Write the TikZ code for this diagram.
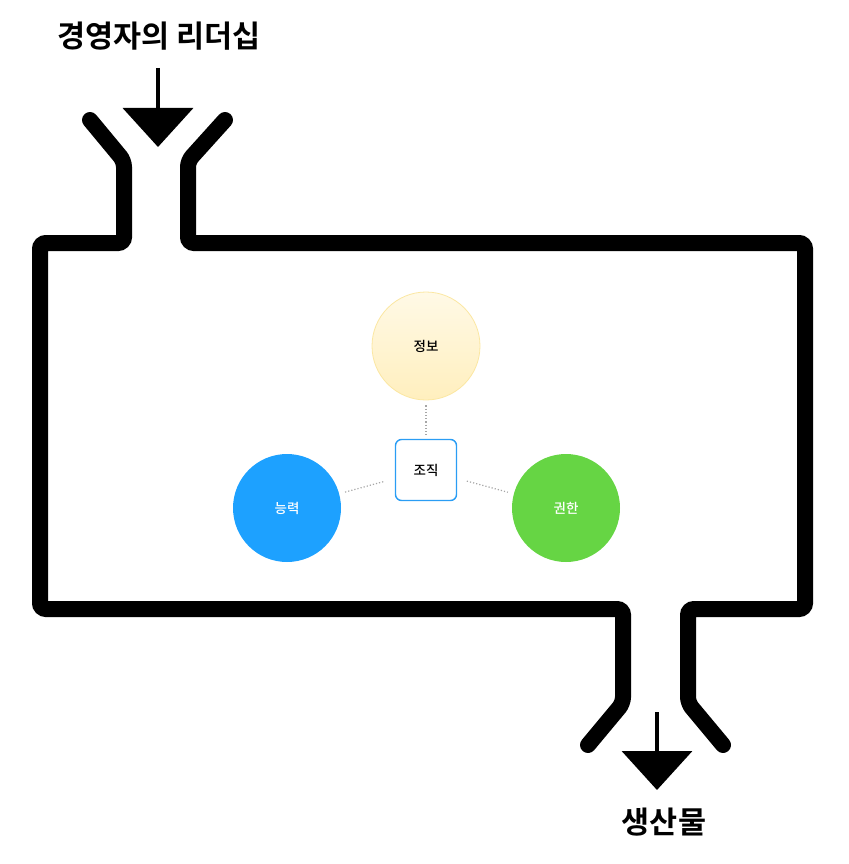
\documentclass[tikz,border=0pt]{standalone}
\usepackage{fontspec}
\setmainfont{Noto Sans CJK KR}[BoldFont={Noto Sans CJK KR Bold}]
\newfontfamily\krmedium{Noto Sans CJK KR Medium}
\usetikzlibrary{arrows.meta}

\definecolor{infotop}{HTML}{FFF9E6}
\definecolor{infobottom}{HTML}{FFEFBE}
\definecolor{infoline}{HTML}{FBE7A2}
\definecolor{skillblue}{HTML}{1DA1FF}
\definecolor{powergreen}{HTML}{66D544}
\definecolor{orgline}{HTML}{2A9DF4}

\begin{document}
\begin{tikzpicture}[
    x=1pt, y=-1pt,
    wall/.style={line width=16pt, line cap=round, rounded corners=6pt},
    flow/.style={line width=4pt, -{Triangle[width=70pt, length=39pt]}},
    title/.style={font=\bfseries\fontsize{30.5}{35}\selectfont},
    circ/.style={circle, minimum size=108pt, inner sep=0pt, font=\krmedium\fontsize{13.5}{15}\selectfont},
    org/.style={draw=orgline, line width=1.4pt, rounded corners=6pt, fill=white, minimum size=61pt, inner sep=0pt, font=\krmedium\fontsize{13.5}{15}\selectfont},
    link/.style={gray!70, line width=1.2pt, dotted}
]
    \useasboundingbox (0,0) rectangle (848,864);

    % 흐름의 벽
    \draw[wall] (90,120) -- (124,161) -- (124,243) -- (40,243) -- (40,609)
        -- (623,609) -- (623,703) -- (588,745);
    \draw[wall] (225,120) -- (188,161) -- (188,243) -- (805,243) -- (805,609)
        -- (688,609) -- (688,703) -- (723,745);

    % 입력과 출력
    \node[title] (lead) at (159,36) {경영자의 리더십};
    \node[title] (output) at (664,822) {생산물};
    \coordinate (inStart) at (158,68);
    \coordinate (inEnd) at (158,147);
    \coordinate (outStart) at (657,712);
    \coordinate (outEnd) at (657,790);
    \draw[flow] (inStart) -- (inEnd);
    \draw[flow] (outStart) -- (outEnd);

    % 조직과 세 요소
    \node[circ, draw=infoline, line width=0.8pt, top color=infotop, bottom color=infobottom] (info) at (426,346) {정보};
    \node[org] (orgbox) at (426,470) {조직};
    \node[circ, fill=skillblue, text=white] (skill) at (287,508) {능력};
    \node[circ, fill=powergreen, text=white] (power) at (566,508) {권한};

    % 연결선
    \draw[link, shorten <=5pt, shorten >=4pt] (info) -- (orgbox);
    \draw[link, shorten <=6pt, shorten >=10pt] (skill) -- (orgbox);
    \draw[link, shorten <=10pt, shorten >=6pt] (orgbox) -- (power);

\end{tikzpicture}
\end{document}
